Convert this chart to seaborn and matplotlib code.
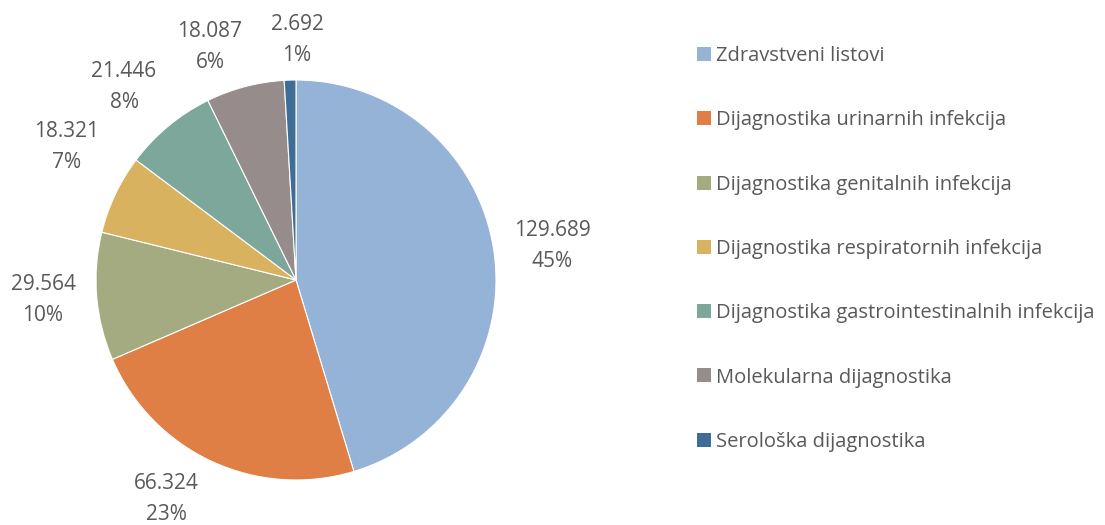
import numpy as np
import seaborn as sns
import matplotlib.pyplot as plt
from matplotlib.patches import Patch

categories = ['Zdravstveni listovi', 'Dijagnostika urinarnih infekcija',
              'Dijagnostika genitalnih infekcija', 'Dijagnostika respiratornih infekcija',
              'Dijagnostika gastrointestinalnih infekcija', 'Molekularna dijagnostika',
              'Serološka dijagnostika']
values = [129689, 66324, 29564, 18321, 21446, 18087, 2692]
pct_labels = ['45%', '23%', '10%', '7%', '8%', '6%', '1%']
colors = ['#95B3D7', '#DF7F46', '#A5AB81', '#D9B25F', '#7DA79B', '#968C8C', '#3E6D97']

# label placement (pie radius units), like Excel's "best fit"
label_pos = [(1.28, 0.17), (-0.65, -1.095), (-1.265, -0.10), (-1.145, 0.665),
             (-0.86, 0.965), (-0.43, 1.165), (0.005, 1.20)]

sns.set_theme(style="white")
plt.rcParams['font.family'] = ['Open Sans', 'DejaVu Sans']
txt = '#595959'

palette = sns.color_palette(colors)
labels = [f"{v:,}".replace(",", ".") + "\n" + p for v, p in zip(values, pct_labels)]

fig = plt.figure(figsize=(11.05, 5.25), dpi=100)
ax = fig.add_axes([96 / 1105, 45 / 525, 400 / 1105, 400 / 525])
wedges, texts = ax.pie(values, colors=palette, startangle=90, counterclock=False,
                       labels=labels, labeldistance=1.27,
                       wedgeprops=dict(edgecolor='white', linewidth=0.8),
                       textprops=dict(color=txt, fontsize=15, linespacing=1.6))
for t, p in zip(texts, label_pos):
    t.set_position(p)
    t.set_horizontalalignment('center')
    t.set_verticalalignment('center')
ax.set_xlim(-1, 1)
ax.set_ylim(-1, 1)
ax.set_aspect('equal')

handles = [Patch(facecolor=c, edgecolor='none') for c in palette]
leg = fig.legend(handles, categories, loc='upper left', bbox_to_anchor=(697 / 1105, 1 - 46 / 525),
                 frameon=False, fontsize=14.5, labelcolor=txt, handlelength=0.69, handleheight=0.69,
                 handletextpad=0.25, labelspacing=2.2, borderpad=0, borderaxespad=0)

fig.savefig('out.png', dpi=100)
